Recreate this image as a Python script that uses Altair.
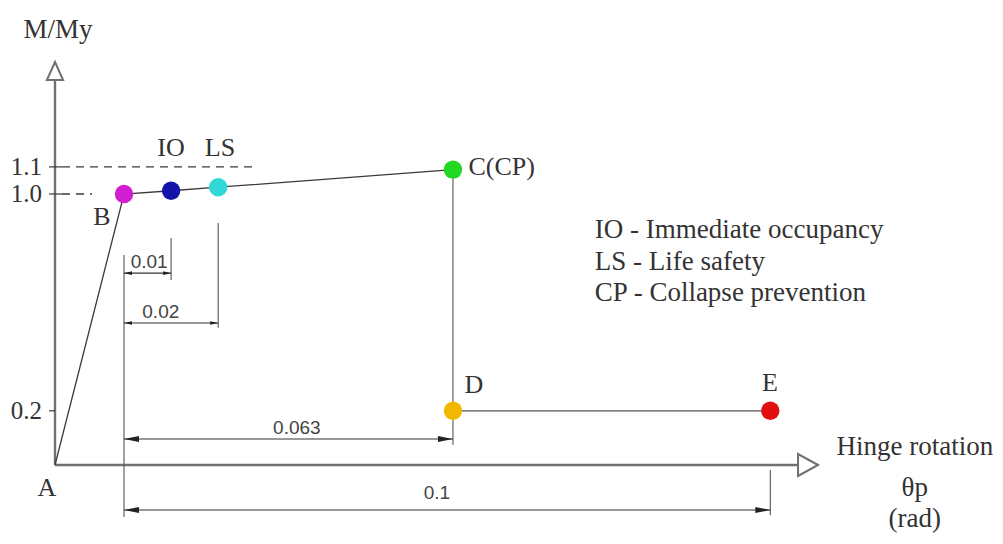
import altair as alt
import pandas as pd

# ---------------- data ----------------
# backbone points of the plastic-hinge curve (schematic rotation, M/My)
pt_name = ["A", "B", "IO", "LS", "C", "D", "E"]
pt_theta = [0.0, 0.0107, 0.0180, 0.0253, 0.0617, 0.0617, 0.1109]
pt_m = [0.0, 1.0, 1.012, 1.025, 1.09, 0.2, 0.2]
pt_color = [None, "#d01ed0", "#1414a8", "#30d8d8", "#22d822", "#f2b800", "#e01010"]

# y tick labels
ytick_val = [1.1, 1.0, 0.2]
ytick_lab = ["1.1", "1.0", "0.2"]

# dimension annotations (rotation increments measured from B)
dim_lab = ["0.01", "0.02", "0.063", "0.1"]
dim_end = ["IO", "LS", "C", "E"]

legend_lines = ["IO - Immediate occupancy", "LS - Life safety", "CP - Collapse prevention"]

# ---------------- helpers ----------------
P = dict(zip(pt_name, zip(pt_theta, pt_m)))
XD = [-0.0072868, 0.1457364]
YD = [-0.26199, 1.68635]
xs = alt.Scale(domain=XD, nice=False, zero=False)
ys = alt.Scale(domain=YD, nice=False, zero=False)
X = lambda f="x": alt.X(f"{f}:Q", scale=xs, axis=None)
Y = lambda f="y": alt.Y(f"{f}:Q", scale=ys, axis=None)

SERIF = "Liberation Serif"
SANS = "Liberation Sans"
LINE = "#3a3a3a"
AX = "#707070"

layers = []

# axes lines
axes = pd.DataFrame({
    "x": [0.0, 0.0], "y": [0.0, 0.0],
    "x2": [0.0, 0.1163], "y2": [1.425, 0.0]})
layers.append(alt.Chart(axes).mark_rule(color=AX, strokeWidth=2.4).encode(
    x=X(), y=Y(), x2="x2:Q", y2="y2:Q"))
# open arrow heads
layers.append(alt.Chart(pd.DataFrame({"x": [0.0], "y": [1.487]})).mark_point(
    shape="M0,0L-0.9,2L0.9,2Z", size=324, filled=True, fill="white",
    stroke=AX, strokeWidth=2, opacity=1).encode(x=X(), y=Y()))
layers.append(alt.Chart(pd.DataFrame({"x": [0.1183], "y": [0.0]})).mark_point(
    shape="M0,0L-2,-1.1L-2,1.1Z", size=400, filled=True, fill="white",
    stroke=AX, strokeWidth=2, opacity=1).encode(x=X(), y=Y()))

# y ticks
tk = pd.DataFrame({"y": ytick_val, "lab": ytick_lab,
                   "x": [-0.00093] * 3, "x2": [0.00109, 0.00109, 0.0]})
layers.append(alt.Chart(tk).mark_rule(color=LINE, strokeWidth=1.2).encode(
    x=X(), x2="x2:Q", y=Y()))
layers.append(alt.Chart(tk).mark_text(font=SERIF, fontSize=25, color="#333",
    align="right", baseline="middle", dx=-3).encode(
    x=alt.value(37), y=Y(), text="lab:N"))

# dashed reference lines
dash = pd.DataFrame({"x": [0.00109, 0.00109], "x2": [0.0313, 0.00574],
                     "y": [1.1, 1.0]})
layers.append(alt.Chart(dash).mark_rule(color=LINE, strokeWidth=1.3,
    strokeDash=[8, 6]).encode(x=X(), x2="x2:Q", y=Y()))

# backbone curve A-B-IO-LS-C
curve = pd.DataFrame({"x": pt_theta[:5], "y": pt_m[:5], "o": list(range(5))})
layers.append(alt.Chart(curve).mark_line(color=LINE, strokeWidth=1.3).encode(
    x=X(), y=Y(), order="o:Q"))
# D-E
de = pd.DataFrame({"x": [P["D"][0], P["E"][0]], "y": [P["D"][1], P["E"][1]]})
layers.append(alt.Chart(de).mark_line(color="#555", strokeWidth=1.3).encode(
    x=X(), y=Y()))

# vertical extension / dimension lines
bx = P["B"][0]
vert = pd.DataFrame({
    "x": [bx, P["IO"][0], P["LS"][0], P["C"][0], P["E"][0]],
    "y": [0.775, 0.838, 0.893, P["C"][1], -0.018],
    "y2": [-0.192, 0.683, 0.506, 0.0738, -0.185]})
layers.append(alt.Chart(vert).mark_rule(color="#555", strokeWidth=1.1).encode(
    x=X(), y=Y(), y2="y2:Q"))

dim_y = [0.708, 0.524, 0.096, -0.166]
dims = pd.DataFrame({"x": [bx] * 4, "x2": [P[k][0] for k in dim_end], "y": dim_y,
                     "lab": dim_lab,
                     "lx": [0.0146, 0.0164, 0.0375, 0.0592],
                     "ly": [0.749, 0.5646, 0.1365, -0.1033]})
layers.append(alt.Chart(dims).mark_rule(color="#333", strokeWidth=1.1).encode(
    x=X(), x2="x2:Q", y=Y()))
small = dims.iloc[:2]
big = dims.iloc[2:]
layers.append(alt.Chart(small).mark_point(shape="M0,0L2,-0.45L2,0.45Z", size=64,
    filled=True, color="#222", opacity=1).encode(x=X(), y=Y()))
layers.append(alt.Chart(small).mark_point(shape="M0,0L-2,-0.45L-2,0.45Z", size=64,
    filled=True, color="#222", opacity=1).encode(x=X("x2"), y=Y()))
layers.append(alt.Chart(big).mark_point(shape="M0,0L2,-0.4L2,0.4Z", size=225,
    filled=True, color="#222", opacity=1).encode(x=X(), y=Y()))
layers.append(alt.Chart(big).mark_point(shape="M0,0L-2,-0.4L-2,0.4Z", size=225,
    filled=True, color="#222", opacity=1).encode(x=X("x2"), y=Y()))
layers.append(alt.Chart(dims).mark_text(font=SANS, fontSize=19, color="#444",
    align="center", baseline="middle").encode(x=X("lx"), y=Y("ly"), text="lab:N"))

# points
pts = pd.DataFrame({"x": pt_theta[1:], "y": pt_m[1:], "c": pt_color[1:]})
layers.append(alt.Chart(pts).mark_circle(size=340, opacity=1).encode(
    x=X(), y=Y(), color=alt.Color("c:N", scale=None)))

# point labels
lab = pd.DataFrame({
    "t": ["A", "B", "IO", "LS", "D", "E"],
    "x": [-0.00124, 0.00729, 0.01798, 0.02558, 0.06496, 0.11085],
    "y": [-0.0849, 0.915, 1.1697, 1.1697, 0.2952, 0.3026]})
layers.append(alt.Chart(lab).mark_text(font=SERIF, fontSize=26, color="#333",
    align="center", baseline="middle").encode(x=X(), y=Y(), text="t:N"))
layers.append(alt.Chart(pd.DataFrame({"t": ["C(CP)"], "x": [0.0641], "y": [1.0996]}))
    .mark_text(font=SERIF, fontSize=26, color="#333", align="left",
               baseline="middle").encode(x=X(), y=Y(), text="t:N"))

# axis titles
titles = pd.DataFrame({
    "t": ["M/My", "Hinge rotation", "\u03b8p", "(rad)"],
    "x": [0.000465, 0.1333, 0.1333, 0.1333],
    "y": [1.6052, 0.0664, -0.0849, -0.199]})
layers.append(alt.Chart(titles).mark_text(font=SERIF, fontSize=27, color="#333",
    align="center", baseline="middle").encode(x=X(), y=Y(), text="t:N"))

# legend text
leg = pd.DataFrame({"t": legend_lines, "x": [0.0837] * 3,
                    "y": [0.8672, 0.7491, 0.6347]})
layers.append(alt.Chart(leg).mark_text(font=SERIF, fontSize=27, color="#333",
    align="left", baseline="middle").encode(x=X(), y=Y(), text="t:N"))

chart = alt.layer(*layers).properties(
    width=987, height=528,
    autosize=alt.AutoSizeParams(type="none"), padding=0,
    background="white",
).configure_view(stroke=None)

chart.save("out.html", embed_options={"renderer": "svg", "actions": False})
